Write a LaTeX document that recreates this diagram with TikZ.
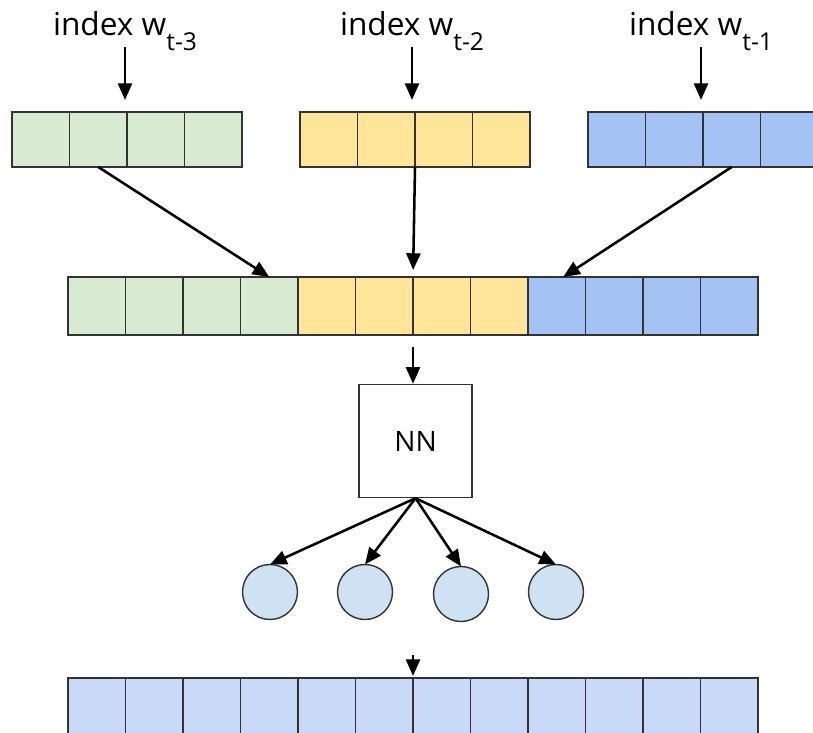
\documentclass[tikz,border=0pt]{standalone}
\usepackage{fontspec}
\setmainfont{Open Sans}
\usetikzlibrary{arrows.meta,positioning,calc}
\definecolor{embgreen}{HTML}{D9EAD3}
\definecolor{embyellow}{HTML}{FFE599}
\definecolor{embblue}{HTML}{A4C2F4}
\definecolor{unitblue}{HTML}{CFE2F3}
\definecolor{softblue}{HTML}{C9DAF8}
\definecolor{edgegray}{HTML}{333333}
\tikzstyle{arrow} = [-{Triangle[length=9.5pt,width=8pt]}, line width=1.45pt, black]
\tikzstyle{cell} = [draw=edgegray, line width=0.75pt, minimum width=1.15cm, minimum height=1.1cm, inner sep=0pt, outer sep=0pt]
\tikzstyle{unit} = [circle, draw=edgegray, fill=unitblue, line width=0.8pt, minimum size=1.1cm, inner sep=0pt, outer sep=0pt]
\newcommand{\tsub}[1]{\raisebox{-8pt}{\fontsize{14}{14}\selectfont #1}}

\begin{document}
\begin{tikzpicture}[font=\fontsize{18}{21}\selectfont]
\useasboundingbox (0,0) rectangle (16.26,14.64);
\node[anchor=base, inner sep=0pt] at (2.5,13.92) (l3) {index w\tsub{t-3}};
\node[anchor=base, inner sep=0pt] at (8.24,13.92) (l2) {index w\tsub{t-2}};
\node[anchor=base, inner sep=0pt] at (14.02,13.92) (l1) {index w\tsub{t-1}};
\foreach \i in {1,...,4} {
  \node[cell, fill=embgreen] (g\i) at ({-0.335+1.15*\i},11.85) {};
  \node[cell, fill=embyellow] (y\i) at ({5.425+1.15*\i},11.85) {};
  \node[cell, fill=embblue] (b\i) at ({11.185+1.15*\i},11.85) {};
}
\foreach \i in {1,...,4}
  \node[cell, fill=embgreen, minimum height=1.16cm] (m\i) at ({0.785+1.15*\i},8.52) {};
\foreach \i in {5,...,8}
  \node[cell, fill=embyellow, minimum height=1.16cm] (m\i) at ({0.785+1.15*\i},8.52) {};
\foreach \i in {9,...,12}
  \node[cell, fill=embblue, minimum height=1.16cm] (m\i) at ({0.785+1.15*\i},8.52) {};
\node[draw=edgegray, line width=0.8pt, minimum size=2.26cm, font=\fontsize{16}{19}\selectfont] at (8.31,5.82) (nn) {NN};
\node[unit] at (5.4,2.8) (c1) {};
\node[unit] at (7.3,2.8) (c2) {};
\node[unit] at (9.22,2.76) (c3) {};
\node[unit] at (11.12,2.8) (c4) {};
\foreach \i in {1,...,12}
  \node[cell, fill=softblue, minimum height=1.16cm] (o\i) at ({0.785+1.15*\i},0.5) {};
\draw[arrow, shorten <=0.22cm, shorten >=0.24cm] (l3.base) -- (l3.base |- g1.north);
\draw[arrow, shorten <=0.22cm, shorten >=0.24cm] (l2.base) -- (l2.base |- y1.north);
\draw[arrow, shorten <=0.22cm, shorten >=0.24cm] (l1.base) -- (l1.base |- b1.north);
\draw[arrow] (g2.south) -- (m4.north);
\draw[arrow, shorten >=0.14cm] (y2.south east) -- (m6.north east);
\draw[arrow] (b3.south) -- ([xshift=0.13cm]m9.north);
\draw[arrow, shorten <=0.24cm] (m6.south east) -- (m6.south east |- nn.north);
\foreach \k in {1,...,4}
  \draw[arrow] (nn.south) -- (c\k.north);
\coordinate (outin) at ($(o6.north east)+(0,0.46)$);
\draw[arrow, shorten >=0.04cm] (outin) -- (o6.north east);
\end{tikzpicture}
\end{document}
